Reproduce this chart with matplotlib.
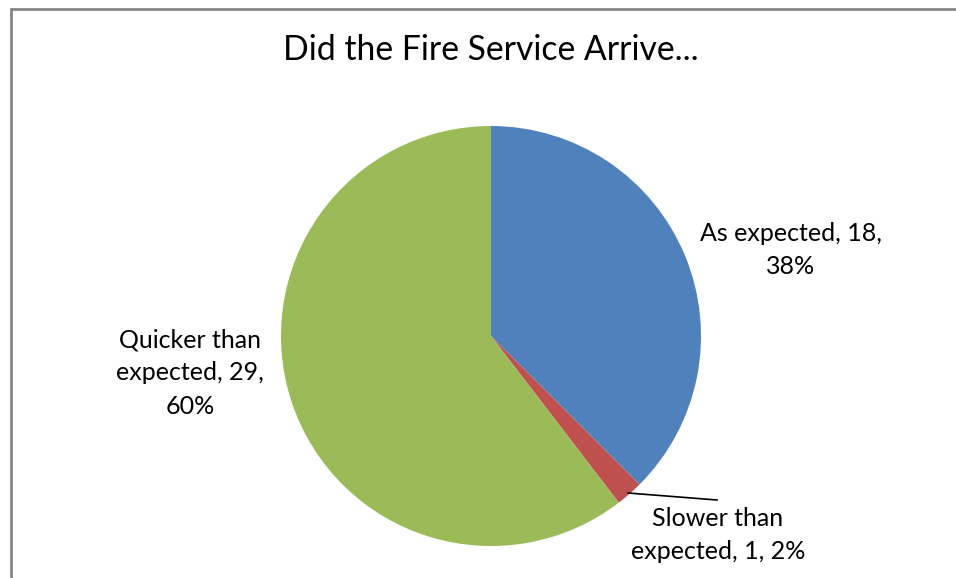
import matplotlib.pyplot as plt
from matplotlib.patches import Rectangle

# data
categories = ["As expected", "Slower than expected", "Quicker than expected"]
counts = [18, 1, 29]
colors = ["#4F81BD", "#C0504D", "#9BBB59"]
title = "Did the Fire Service Arrive..."

W, H = 956, 578
fig = plt.figure(figsize=(W / 100, H / 100), dpi=100)
ax = fig.add_axes([0, 0, 1, 1])

font = ["Lato", "DejaVu Sans"]

cx, cy, r = 491, H - 336, 210
ax.pie(counts, colors=colors, startangle=90, counterclock=False,
       center=(cx, cy), radius=r, frame=True,
       wedgeprops=dict(linewidth=0))
ax.set_xlim(0, W)
ax.set_ylim(0, H)
ax.axis("off")

# chart border (right/bottom edges run off the image)
ax.add_patch(Rectangle((11, -20), W + 20, H - 9 + 20, fill=False,
                       edgecolor="#878787", linewidth=2))

total = sum(counts)
pct = [round(100 * c / total) for c in counts]

ax.text(491, H - 50, title, ha="center", va="center", fontsize=24.3, family=font)

lab = dict(ha="center", va="center", fontsize=18, family=font, linespacing=1.55)
ax.text(791, H - 250, f"As expected, {counts[0]},\n{pct[0]}%", **lab)
ax.text(190, H - 373, f"Quicker than\nexpected, {counts[2]},\n{pct[2]}%", **lab)
ax.text(718, H - 535, f"Slower than\nexpected, {counts[1]}, {pct[1]}%", **lab)

# leader line for the small slice
ax.plot([628, 717], [H - 493, H - 500], color="black", linewidth=1.2)

fig.savefig("out.png", dpi=100)
